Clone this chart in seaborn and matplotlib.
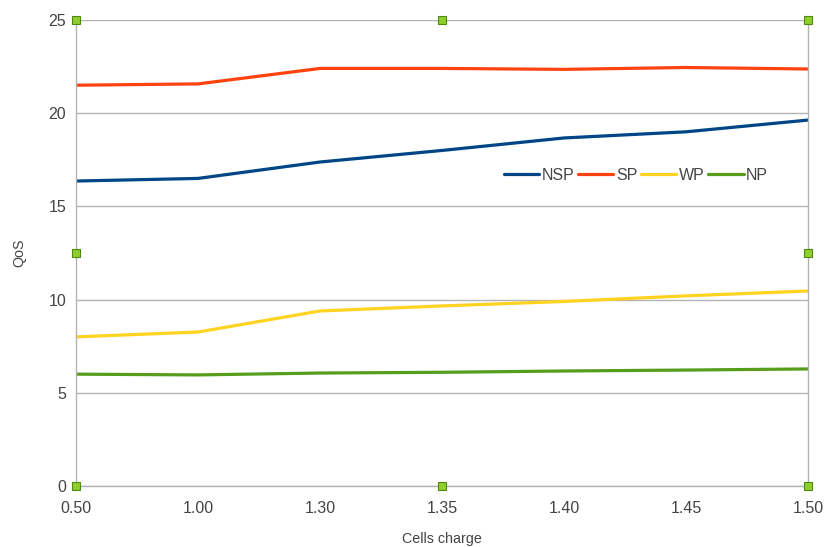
import matplotlib
matplotlib.use('Agg')
import matplotlib.pyplot as plt
import pandas as pd
import seaborn as sns

charges = ['0.50', '1.00', '1.30', '1.35', '1.40', '1.45', '1.50']
nsp = [16.36, 16.5, 17.38, 18.0, 18.67, 19.0, 19.63]
sp = [21.5, 21.57, 22.4, 22.4, 22.35, 22.45, 22.37]
wp = [8.0, 8.26, 9.39, 9.66, 9.9, 10.2, 10.46]
np_ = [6.0, 5.96, 6.06, 6.1, 6.17, 6.22, 6.28]

series = ['NSP', 'SP', 'WP', 'NP']
colours = ['#004586', '#ff420e', '#ffd320', '#579d1c']


def main():
    sns.set_style('white')
    plt.rcParams['font.family'] = ['Liberation Sans', 'DejaVu Sans']

    df = pd.DataFrame({
        'Cells charge': charges * 4,
        'QoS': nsp + sp + wp + np_,
        'series': [s for s in series for _ in charges],
    })

    fig = plt.figure(figsize=(8.24, 5.47), dpi=100)
    ax = fig.add_axes([0.0922, 0.1115, 0.8884, 0.852])
    sns.lineplot(data=df, x='Cells charge', y='QoS', hue='series',
                 palette=colours, hue_order=series, linewidth=2.3,
                 ax=ax, sort=False)

    ax.set_ylim(0, 25)
    ax.set_yticks([0, 5, 10, 15, 20, 25])
    ax.set_xlim(0, len(charges) - 1)
    ax.yaxis.grid(True, color='#b3b3b3', linewidth=1)
    ax.set_axisbelow(True)
    for side in ['left', 'right', 'bottom']:
        ax.spines[side].set_color('#b3b3b3')
        ax.spines[side].set_linewidth(1)
    ax.spines['top'].set_visible(False)
    ax.tick_params(axis='both', colors='#b3b3b3', labelcolor='#444444',
                   labelsize=11.5, length=5, width=1)
    ax.tick_params(axis='y', pad=2)
    ax.tick_params(axis='x', direction='inout', pad=8)
    ax.set_xlabel('Cells charge', fontsize=10.3, color='#444444', labelpad=12)
    ax.set_ylabel('QoS', fontsize=10.3, color='#444444', labelpad=16)

    ax.legend(ncol=4, loc='center', bbox_to_anchor=(0.765, 0.667),
              frameon=False, fontsize=11.5, handlelength=2.2,
              handletextpad=0.15, columnspacing=0.25, labelcolor='#444444')

    # selection handles around the chart wall
    for hx, hy in [(0, 1), (0.5, 1), (1, 1), (0, 0.5), (1, 0.5),
                   (0, 0), (0.5, 0), (1, 0)]:
        ax.plot(hx, hy, marker='s', markersize=6, color='#8fce2c',
                markeredgecolor='#4e8a12', markeredgewidth=0.8,
                transform=ax.transAxes, clip_on=False, zorder=10)

    plt.savefig('out.png', dpi=100)


if __name__ == '__main__':
    main()
